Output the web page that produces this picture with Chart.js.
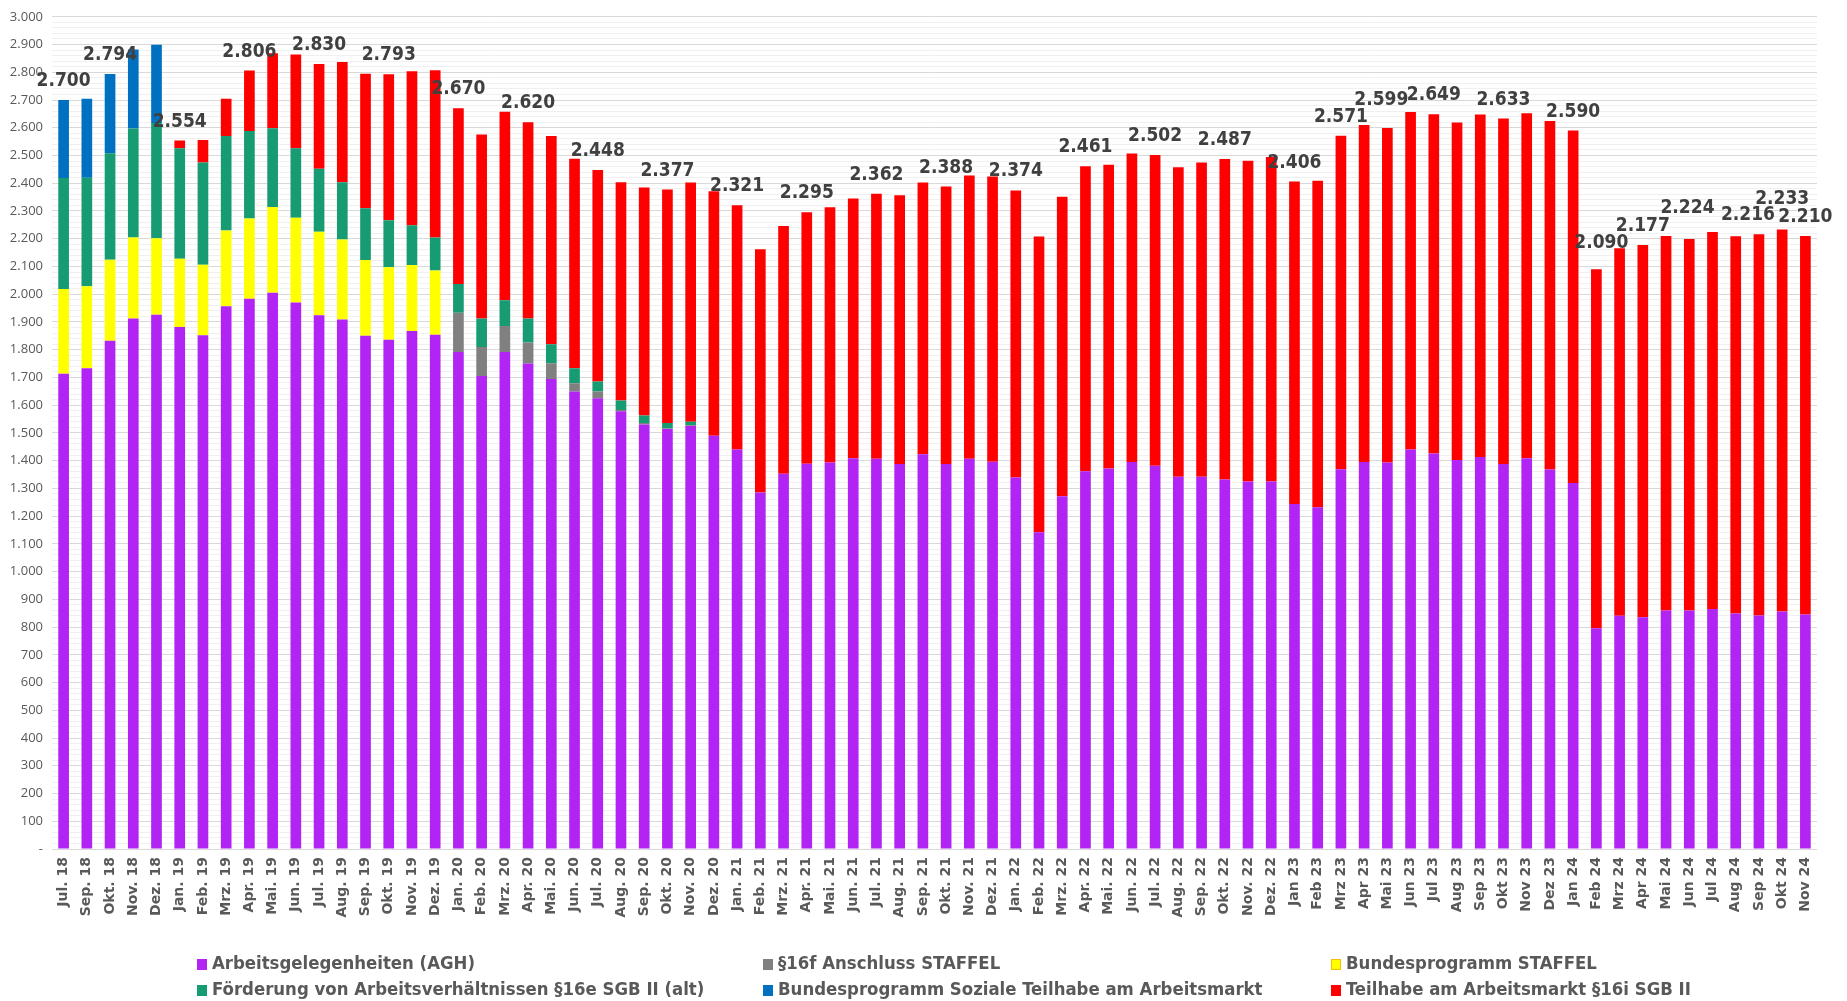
<!DOCTYPE html>
<html><head><meta charset="utf-8">
<script src="https://cdn.jsdelivr.net/npm/chart.js@4.4.1/dist/chart.umd.min.js"></script>
<style>
html,body{margin:0;padding:0;background:#fff;overflow:hidden;}
#wrap{position:relative;width:1847px;height:1001px;}
#c{position:absolute;left:0;top:0;}
#legend{position:absolute;left:0;top:0;width:1847px;height:1001px;pointer-events:none;
 font-family:'DejaVu Sans Condensed','DejaVu Sans',sans-serif;font-weight:bold;font-size:18.4px;color:#595959;}
.item{position:absolute;white-space:nowrap;line-height:22px;transform:translateY(-50%);}
.sw{display:inline-block;width:10px;height:11px;margin-right:5px;vertical-align:-1px;box-sizing:border-box;}
</style></head>
<body><div id="wrap"><canvas id="c" width="1847" height="1001"></canvas><div id="legend"></div></div>
<script>
const categories = ['Jul. 18','Sep. 18','Okt. 18','Nov. 18','Dez. 18','Jan. 19','Feb. 19','Mrz. 19','Apr. 19','Mai. 19','Jun. 19','Jul. 19','Aug. 19','Sep. 19','Okt. 19','Nov. 19','Dez. 19','Jan. 20','Feb. 20','Mrz. 20','Apr. 20','Mai. 20','Jun. 20','Jul. 20','Aug. 20','Sep. 20','Okt. 20','Nov. 20','Dez. 20','Jan. 21','Feb. 21','Mrz. 21','Apr. 21','Mai. 21','Jun. 21','Jul. 21','Aug. 21','Sep. 21','Okt. 21','Nov. 21','Dez. 21','Jan. 22','Feb. 22','Mrz. 22','Apr. 22','Mai. 22','Jun. 22','Jul. 22','Aug. 22','Sep. 22','Okt. 22','Nov. 22','Dez. 22','Jan 23','Feb 23','Mrz 23','Apr 23','Mai 23','Jun 23','Jul 23','Aug 23','Sep 23','Okt 23','Nov 23','Dez 23','Jan 24','Feb 24','Mrz 24','Apr 24','Mai 24','Jun 24','Jul 24','Aug 24','Sep 24','Okt 24','Nov 24'];

const agh = [1713,1733,1832,1912,1926,1882,1852,1957,1984,2005,
 1970,1924,1909,1850,1836,1867,1854,1792,1705,1792,
 1750,1694,1649,1625,1578,1530,1514,1525,1490,1440,
 1285,1353,1389,1393,1409,1407,1388,1423,1388,1407,
 1396,1339,1142,1272,1362,1372,1395,1382,1342,1342,
 1332,1325,1325,1244,1232,1369,1395,1393,1440,1426,
 1402,1413,1388,1409,1368,1319,796,841,835,860,
 860,865,849,842,856,845];

const anschlussStaffel = [0,0,0,0,0,0,0,0,0,0, 0,0,0,0,0,0,0,141,105,93,
 76,57,30,24,5,6,2,3,0,0, 0,0,0,0,0,0,0,0,0,0,
 0,0,0,0,0,0,0,0,0,0, 0,0,0,0,0,0,0,0,0,0,
 0,0,0,0,0,0,0,0,0,0, 0,0,0,0,0,0];

const bundesprogrammStaffel = [306,296,292,292,276,246,254,273,289,309,
 306,301,288,273,261,238,231,0,0,0,
 0,0,0,0,0,0,0,0,0,0, 0,0,0,0,0,0,0,0,0,0,
 0,0,0,0,0,0,0,0,0,0, 0,0,0,0,0,0,0,0,0,0,
 0,0,0,0,0,0,0,0,0,0, 0,0,0,0,0,0];

const foerderung16e = [400,391,384,393,415,398,369,340,315,284,
 250,227,207,187,170,144,119,104,102,93,
 86,69,54,36,34,27,20,12,0,0,
 0,0,0,0,0,0,0,0,0,0, 0,0,0,0,0,0,0,0,0,0,
 0,0,0,0,0,0,0,0,0,0, 0,0,0,0,0,0,0,0,0,0,
 0,0,0,0,0,0];

const sozialeTeilhabe = [281,285,286,285,282,0,0,0,0,0,
 0,0,0,0,0,0,0,0,0,0, 0,0,0,0,0,0,0,0,0,0,
 0,0,0,0,0,0,0,0,0,0, 0,0,0,0,0,0,0,0,0,0,
 0,0,0,0,0,0,0,0,0,0, 0,0,0,0,0,0,0,0,0,0,
 0,0,0,0,0,0];

const teilhabe16i = [0,0,0,0,0,28,81,135,218,271,
 338,378,433,485,526,555,603,633,664,680,
 708,750,755,763,787,822,841,863,881,881,
 877,893,906,920,936,955,969,980,1000,1021,
 1028,1035,1066,1079,1099,1095,1112,1120,1116,1133,
 1155,1156,1170,1162,1177,1202,1215,1206,1217,1223,
 1217,1235,1245,1243,1256,1271,1294,1325,1342,1350,
 1339,1359,1360,1374,1377,1365];

const labelledIndices = [0,2,5,8,11,14,17,20,23,26,29,32,35,38,41,44,47,50,53,55,57,59,62,65,66,68,71,73,74,75];

const yMin = 0, yMax = 3000, yMinorStep = 20, yMajorStep = 100;

const seriesDefs = [
 {label:'Arbeitsgelegenheiten (AGH)', data:agh, color:'#B124F4'},
 {label:'§16f Anschluss STAFFEL', data:anschlussStaffel, color:'#808080'},
 {label:'Bundesprogramm STAFFEL', data:bundesprogrammStaffel, color:'#FFFF00', border:'#F2C200'},
 {label:'Förderung von Arbeitsverhältnissen §16e SGB II (alt)', data:foerderung16e, color:'#179B73'},
 {label:'Bundesprogramm Soziale Teilhabe am Arbeitsmarkt', data:sozialeTeilhabe, color:'#0070C0'},
 {label:'Teilhabe am Arbeitsmarkt §16i SGB II', data:teilhabe16i, color:'#FF0000'}
];

function fmt(v){
  if (v === 0) return '-';
  v = Math.round(v);
  if (v < 1000) return String(v);
  return Math.floor(v/1000) + '.' + String(v%1000).padStart(3,'0');
}

// label placement tweaks (pixel nudges to avoid overlaps, as in the original)
const labelStyle = {
  font: "bold 19px 'DejaVu Sans Condensed','DejaVu Sans',sans-serif", color:'#404040', gap:14,
  nudges: {57:[-6,-9], 66:[5,-7], 71:[-25,-5], 73:[-11,0], 74:[0,-12]}
};

const totalLabels = {
  id:'totalLabels',
  afterDatasetsDraw(chart){
    const {ctx} = chart, x = chart.scales.x, y = chart.scales.y;
    ctx.save();
    ctx.font = labelStyle.font;
    ctx.fillStyle = labelStyle.color;
    ctx.textAlign = 'center';
    ctx.textBaseline = 'alphabetic';
    labelledIndices.forEach(i => {
      let total = 0;
      chart.data.datasets.forEach(d => { total += d.data[i] || 0; });
      const n = labelStyle.nudges[i] || [0,0];
      ctx.fillText(fmt(total), x.getPixelForValue(i) + n[0], y.getPixelForValue(total) - labelStyle.gap + n[1]);
    });
    ctx.restore();
  }
};

const chart = new Chart(document.getElementById('c'), {
  type:'bar',
  data:{
    labels:categories,
    datasets:seriesDefs.map(s => ({
      label:s.label, data:s.data, backgroundColor:s.color,
      borderColor:s.border || s.color, borderWidth:0,
      barPercentage:0.46, categoryPercentage:1.0
    }))
  },
  options:{
    responsive:false, animation:false, devicePixelRatio:1,
    layout:{padding:{left:0, top:11, right:30, bottom:70}},
    plugins:{legend:{display:false}, tooltip:{enabled:false}},
    scales:{
      x:{
        stacked:true,
        grid:{display:false, drawTicks:false},
        border:{display:false},
        ticks:{minRotation:90, maxRotation:90, autoSkip:false, padding:8, color:'#595959',
          font:{family:'DejaVu Sans', size:14, weight:'bold'}},
        afterFit(s){ s.height = 82; }
      },
      y:{
        stacked:true, min:yMin, max:yMax,
        border:{display:false},
        grid:{drawTicks:false, lineWidth:1,
          color:c => (c.tick && c.tick.value % yMajorStep === 0) ? '#d9d9d9' : '#f0f0f0'},
        ticks:{stepSize:yMinorStep, autoSkip:false, maxTicksLimit:1000, padding:9, color:'#595959',
          font:{family:'Open Sans', size:13},
          callback:v => (v % yMajorStep === 0) ? fmt(v) : ''},
        afterFit(s){ s.width = 52; }
      }
    }
  },
  plugins:[totalLabels]
});

// HTML legend in a 3-column grid
const legend = document.getElementById('legend');
const colX = [197, 763, 1331], rowY = [963, 989];
seriesDefs.forEach((s, k) => {
  const el = document.createElement('div');
  el.className = 'item';
  el.style.left = colX[k % 3] + 'px';
  el.style.top = rowY[Math.floor(k / 3)] + 'px';
  const sw = document.createElement('span');
  sw.className = 'sw';
  sw.style.background = s.color;
  if (s.border) sw.style.border = '1px solid ' + s.border;
  el.appendChild(sw);
  el.appendChild(document.createTextNode(s.label));
  legend.appendChild(el);
});
</script>
</body></html>
